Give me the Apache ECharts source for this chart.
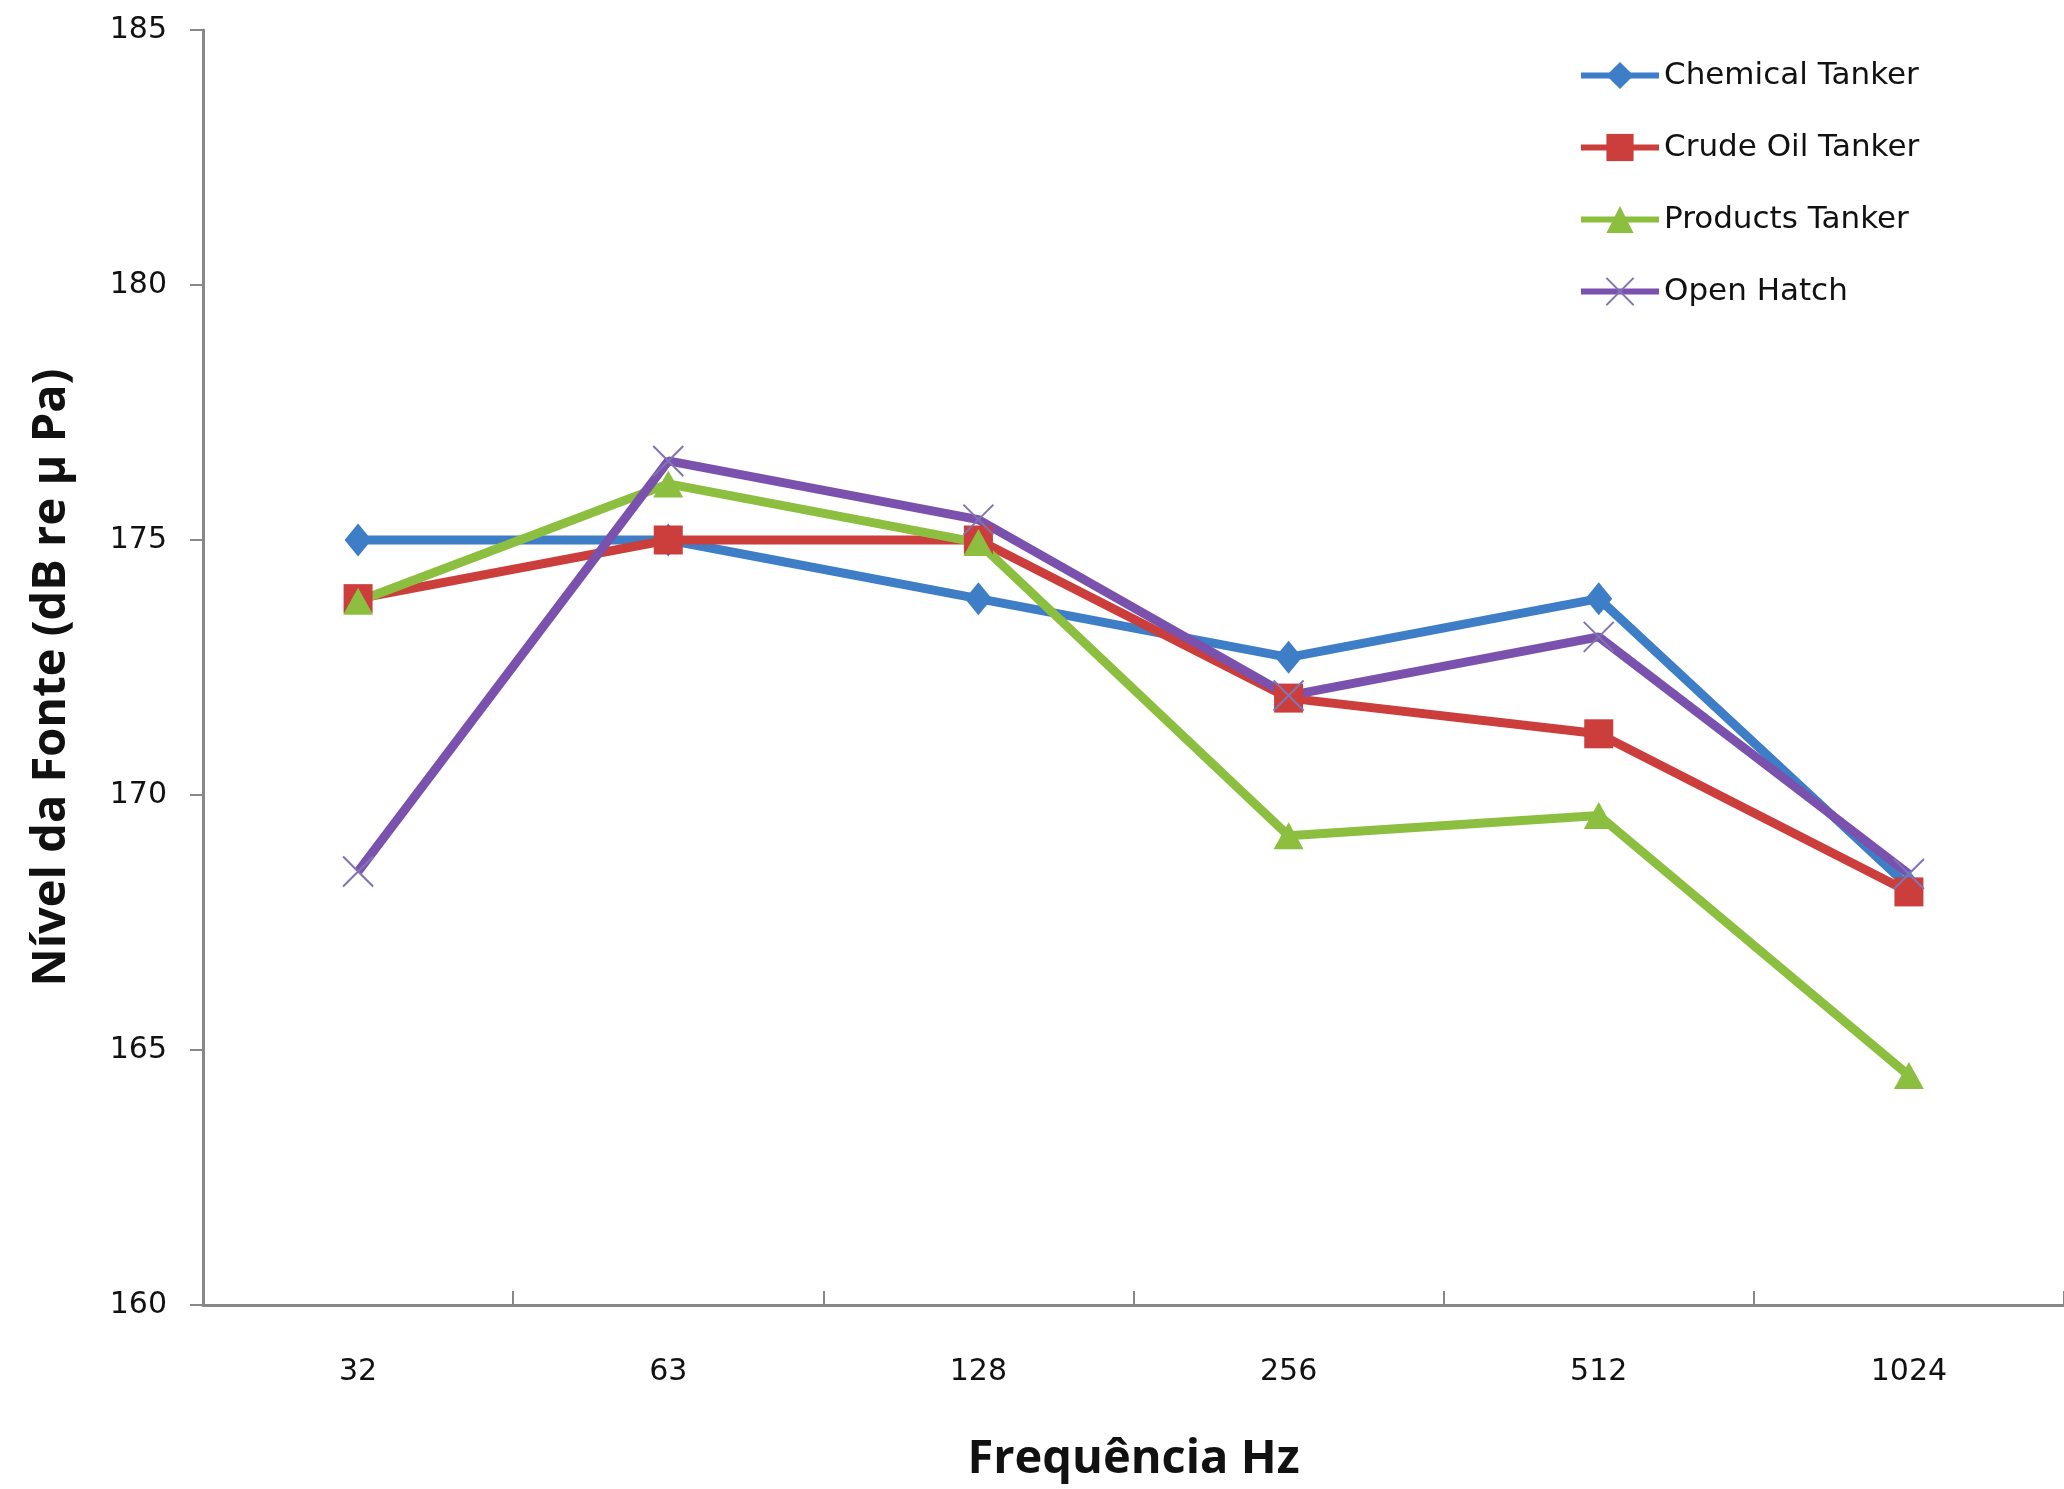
<!DOCTYPE html>
<html>
<head>
<meta charset="utf-8">
<script src="https://cdn.jsdelivr.net/npm/echarts@6/dist/echarts.min.js"></script>
<style>
  html, body { margin: 0; padding: 0; background: #ffffff; }
  #chart { width: 2064px; height: 1489px; }
</style>
</head>
<body>
<div id="chart"></div>
<script>
// Octave-band centre frequencies (Hz)
const frequencies = ['32', '63', '128', '256', '512', '1024'];

// Source level per ship type (dB re µPa)
const chemicalTanker = [175.0, 175.0, 173.85, 172.7, 173.85, 168.2];
const crudeOilTanker = [173.85, 175.0, 175.0, 171.9, 171.2, 168.1];
const productsTanker = [173.8, 176.1, 174.95, 169.2, 169.6, 164.5];
const openHatch = [168.5, 176.55, 175.4, 171.95, 173.1, 168.45];

// Value axis range
const yMin = 160;
const yMax = 185;
const yStep = 5;

const tickFont = 'DejaVu Sans';
const titleFont = 'Open Sans';

const chart = echarts.init(document.getElementById('chart'), null, { renderer: 'canvas' });

function lineSeries(name, data, color, symbol, symbolSize, extraItemStyle) {
  return {
    name: name,
    type: 'line',
    data: data,
    symbol: symbol,
    symbolSize: symbolSize,
    showAllSymbol: true,
    lineStyle: { color: color, width: 9 },
    itemStyle: Object.assign({ color: color }, extraItemStyle || {}),
    emphasis: { disabled: true },
    animation: false
  };
}

chart.setOption({
  backgroundColor: '#ffffff',
  animation: false,
  grid: { left: 203, top: 30, right: 0, bottom: 184, containLabel: false },
  legend: {
    orient: 'vertical',
    left: 1578,
    top: 60,
    padding: 0,
    itemWidth: 78,
    itemHeight: 34,
    itemGap: 41,
    lineStyle: { width: 6 },
    textStyle: { fontFamily: tickFont, fontSize: 31, color: '#111111', padding: [0, 0, 0, 0] },
    data: ['Chemical Tanker', 'Crude Oil Tanker', 'Products Tanker', 'Open Hatch']
  },
  xAxis: {
    type: 'category',
    data: frequencies,
    boundaryGap: true,
    name: 'Frequência Hz',
    nameLocation: 'middle',
    nameGap: 131,
    nameTextStyle: { fontFamily: titleFont, fontWeight: 'bold', fontSize: 47, color: '#111111' },
    axisLine: { show: true, lineStyle: { color: '#888888', width: 3 } },
    axisTick: { show: true, interval: 0, inside: true, length: 14, lineStyle: { color: '#888888', width: 2 } },
    axisLabel: { fontFamily: tickFont, fontSize: 30, color: '#111111', margin: 52 },
    splitLine: { show: false }
  },
  yAxis: {
    type: 'value',
    min: yMin,
    max: yMax,
    interval: yStep,
    name: 'Nível da Fonte (dB re µ Pa)',
    nameLocation: 'middle',
    nameGap: 128,
    nameTextStyle: { fontFamily: titleFont, fontWeight: 'bold', fontSize: 47, color: '#111111', padding: [0, 20, 0, 0] },
    axisLine: { show: true, lineStyle: { color: '#888888', width: 3 } },
    axisTick: { show: true, inside: false, length: 13, lineStyle: { color: '#888888', width: 2 } },
    axisLabel: { fontFamily: tickFont, fontSize: 30, color: '#111111', margin: 36 },
    splitLine: { show: false }
  },
  series: [
    lineSeries('Chemical Tanker', chemicalTanker, '#3d7ec6', 'diamond', [27, 33]),
    lineSeries('Crude Oil Tanker', crudeOilTanker, '#cb3e3b', 'rect', 29),
    lineSeries('Products Tanker', productsTanker, '#8cbf3f', 'triangle', [30, 27]),
    lineSeries('Open Hatch', openHatch, '#7a52ae', 'path://M0,0L20,20M20,0L0,20', 30,
      { color: 'rgba(0,0,0,0)', borderColor: '#7f74b4', borderWidth: 2 })
  ]
});
</script>
</body>
</html>
